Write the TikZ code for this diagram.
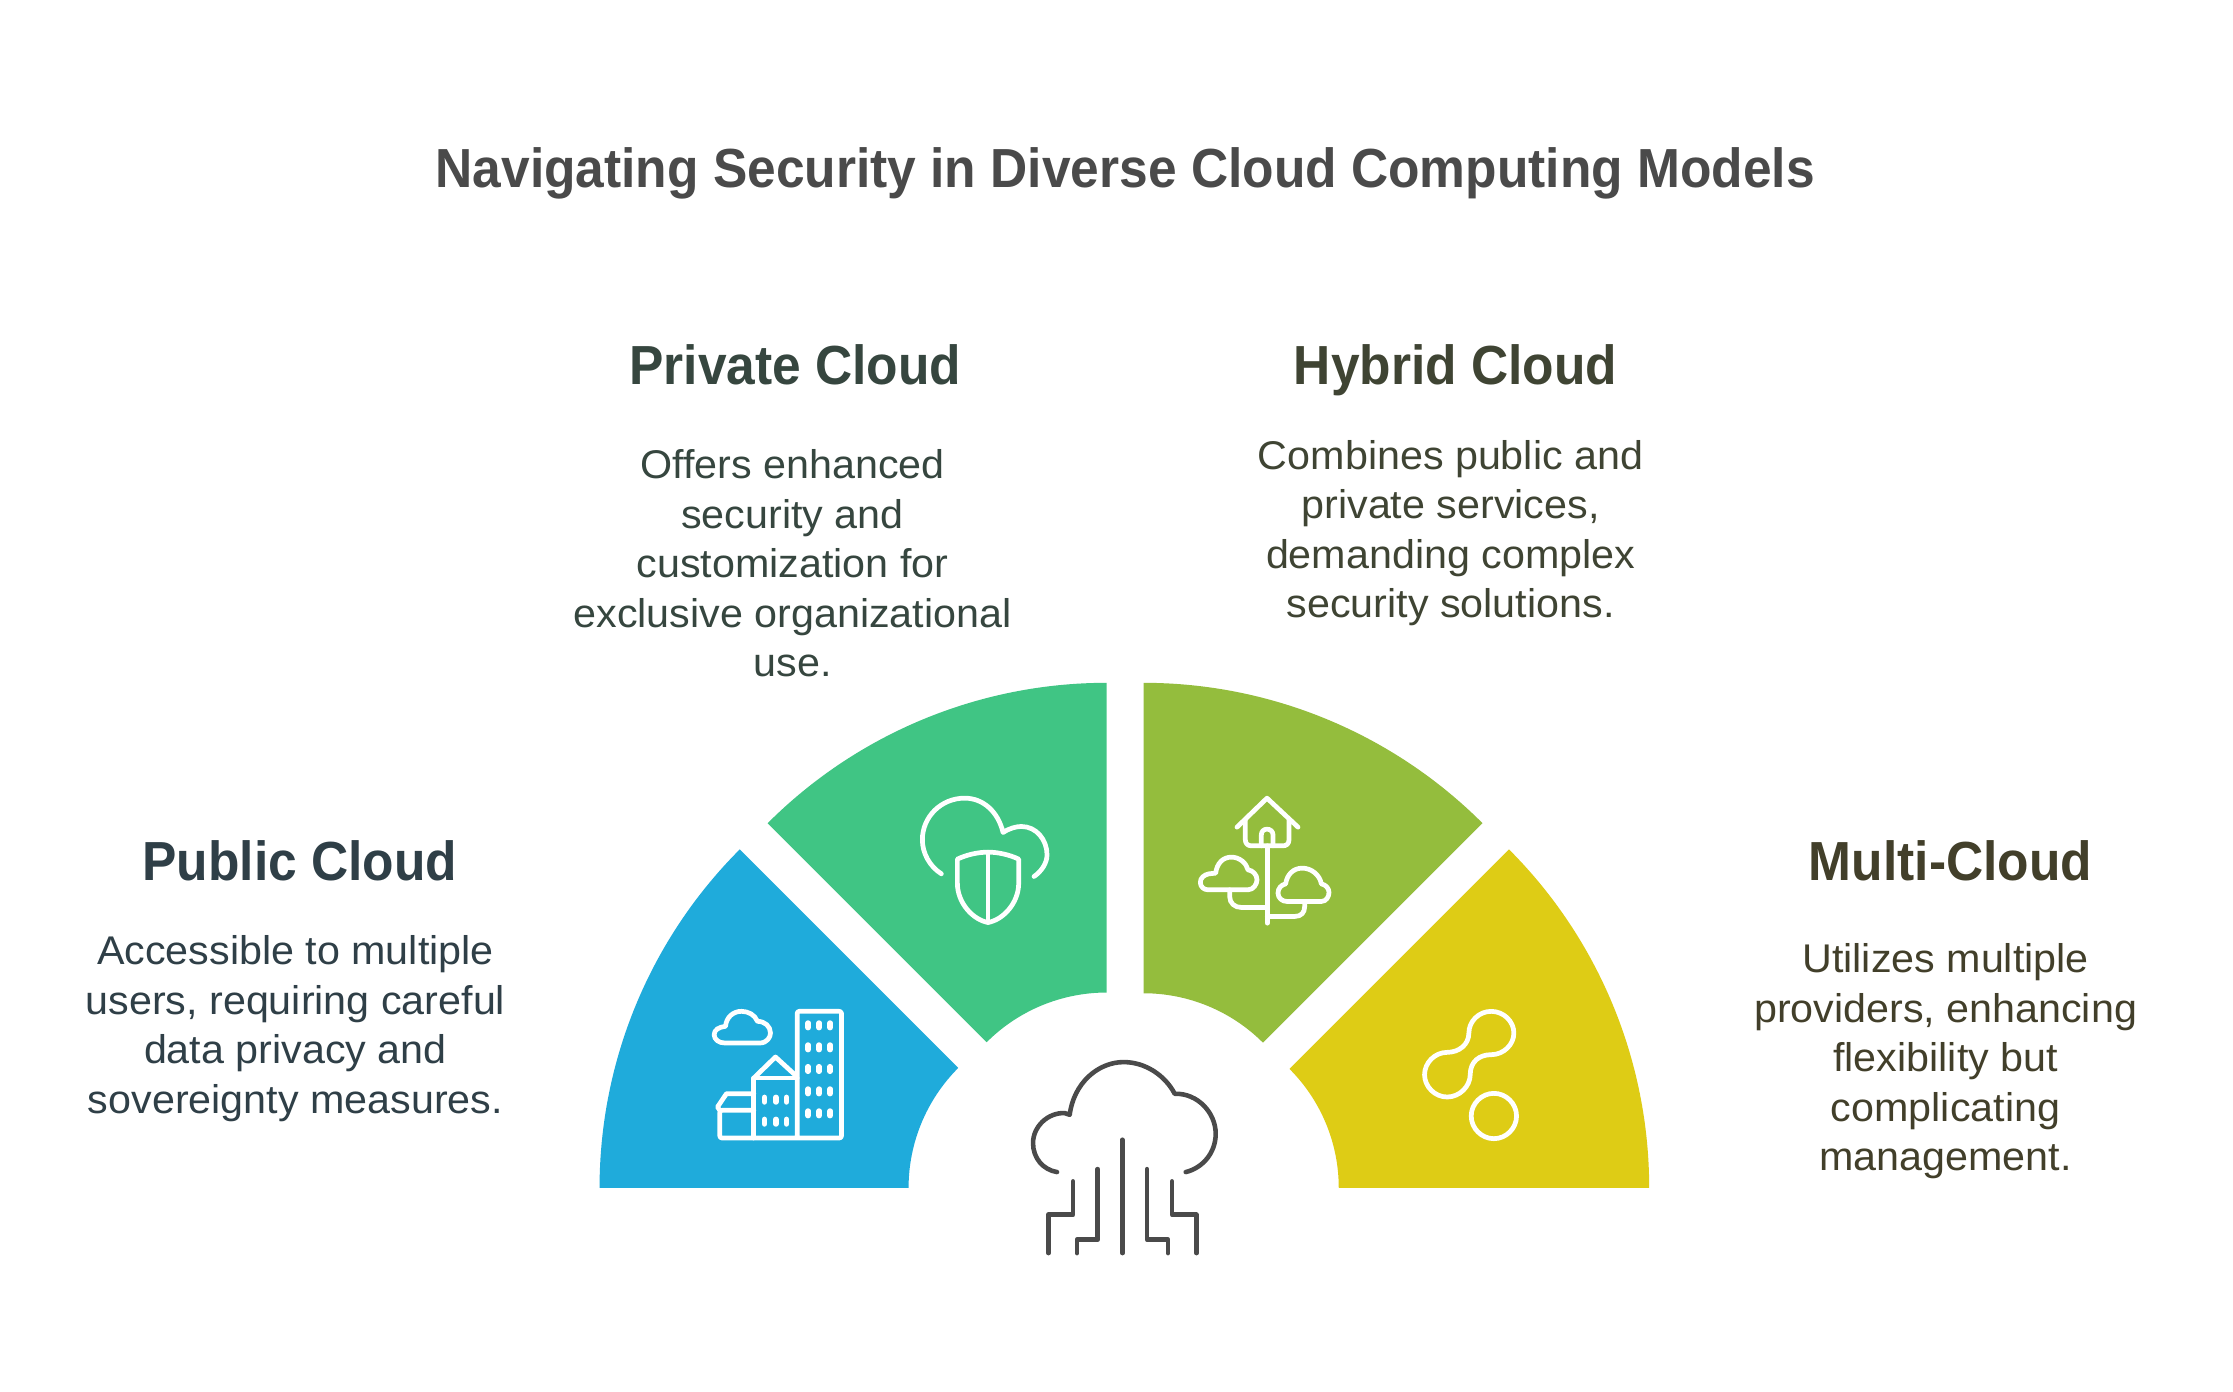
\documentclass[tikz,border=0pt]{standalone}
\usepackage{fontspec}
\setmainfont[FakeStretch=1.03,BoldFeatures={FakeStretch=0.935}]{Liberation Sans}
\usepackage{tikz}

\definecolor{pubblue}{HTML}{1FABDB}
\definecolor{privgreen}{HTML}{40C584}
\definecolor{hybolive}{HTML}{94BD3D}
\definecolor{multyellow}{HTML}{DECC15}
\definecolor{pubtext}{HTML}{2F3F47}
\definecolor{privtext}{HTML}{36463F}
\definecolor{hybtext}{HTML}{3F4433}
\definecolor{multtext}{HTML}{423F2A}
\definecolor{icongrey}{HTML}{4A4A4A}

\tikzset{
  titlenode/.style={text=icongrey,anchor=base,font=\fontsize{38.5}{46}\selectfont\bfseries},
  headnode/.style={anchor=base,font=\fontsize{38.5}{46}\selectfont\bfseries},
  bodynode/.style={align=center,font=\fontsize{28}{34.6}\selectfont},
  iconline/.style={white,line width=3.3pt,line cap=round,line join=round},
  darkline/.style={icongrey,line width=3.2pt,line cap=round,line join=round},
  iconbox/.style={x=0.233pt,y=-0.233pt},
}

\begin{document}
\begin{tikzpicture}[x=1pt,y=-1pt]
\path[fill=white,use as bounding box] (0,0) rectangle (1560.9,973);

\node[titlenode] (title) at (786.5,131) {Navigating Security in Diverse Cloud Computing Models};

% sectors
\fill[pubblue,shift={(753.6,830.3)}] (180:334.5pt) arc[start angle=180,end angle=135,radius=334.5pt] -- (135:118.5pt) arc[start angle=135,end angle=180,radius=118.5pt] -- cycle;
\fill[privgreen,shift={(773.5,812.3)}] (135:335pt) arc[start angle=135,end angle=90,radius=335pt] -- (90:118.5pt) arc[start angle=90,end angle=135,radius=118.5pt] -- cycle;
\fill[hybolive,shift={(799.4,812.3)}] (90:335pt) arc[start angle=90,end angle=45,radius=335pt] -- (45:118pt) arc[start angle=45,end angle=90,radius=118pt] -- cycle;
\fill[multyellow,shift={(818.3,830.3)}] (45:334.5pt) arc[start angle=45,end angle=0,radius=334.5pt] -- (0:117.5pt) arc[start angle=0,end angle=45,radius=117.5pt] -- cycle;

% labels
\node[headnode,text=pubtext] (pubhead) at (209.6,615.2) {Public Cloud};
\node[bodynode,text=pubtext] (pubbody) at (206.5,719.2) {Accessible to multiple\\users, requiring careful\\data privacy and\\sovereignty measures.};
\node[headnode,text=privtext] (privhead) at (556,269) {Private Cloud};
\node[bodynode,text=privtext] (privbody) at (554,393.8) {Offers enhanced\\security and\\customization for\\exclusive organizational\\use.};
\node[headnode,text=hybtext] (hybhead) at (1017.4,269) {Hybrid Cloud};
\node[bodynode,text=hybtext] (hybbody) at (1014,372.8) {Combines public and\\private services,\\demanding complex\\security solutions.};
\node[headnode,text=multtext] (multhead) at (1363.4,615.2) {Multi-Cloud};
\node[bodynode,text=multtext] (multbody) at (1360,741.9) {Utilizes multiple\\providers, enhancing\\flexibility but\\complicating\\management.};

% centre cloud
\begin{scope}[shift={(698.8,726.8)},iconbox]
\draw[darkline] (172,397) .. controls (130,390) and (100,355) .. (100,310) .. controls (100,260) and (145,218) .. (195,220) -- (210,225) .. controls (222,130) and (295,67) .. (372,67) .. controls (435,67) and (495,105) .. (525,162) .. controls (595,160) and (648,220) .. (648,282) .. controls (648,340) and (608,385) .. (558,397);
\draw[darkline] (368,300) -- (368,640);
\draw[darkline] (294,388) -- (294,600) -- (232,600) -- (232,640);
\draw[darkline] (220,425) -- (220,525) -- (146,525) -- (146,640);
\draw[darkline] (442,388) -- (442,600) -- (505,600) -- (505,640);
\draw[darkline] (517,425) -- (517,525) -- (590,525) -- (590,640);
\end{scope}

% city icon
\begin{scope}[shift={(475.2,684.8)},iconbox]
\draw[iconline] (135,190) -- (240,190) .. controls (262,190) and (272,172) .. (272,160) .. controls (272,140) and (255,125) .. (233,125) .. controls (225,105) and (205,95) .. (185,95) .. controls (160,95) and (140,112) .. (137,140) .. controls (118,142) and (103,150) .. (103,165) .. controls (103,180) and (118,190) .. (135,190) -- cycle;
\draw[iconline,rounded corners=1.5pt] (352,475) -- (352,95) -- (485,95) -- (485,475) -- (120,475) -- (120,392) -- (222,392);
\draw[iconline] (222,475) -- (222,295) -- (352,295);
\draw[iconline] (222,295) -- (287,232) -- (345,285);
\draw[iconline] (222,342) -- (140,342) -- (113,382) -- (120,392);
\foreach \wy in {137,203,268,335,401} \foreach \wx in {385,418,451}
  \draw[iconline,line width=3.8pt] (\wx,\wy-7) -- (\wx,\wy+7);
\foreach \wy in {360,426} \foreach \wx in {254,288,320}
  \draw[iconline,line width=3.8pt] (\wx,\wy-7) -- (\wx,\wy+7);
\end{scope}

% shield icon
\begin{scope}[shift={(628.9,545.1)},iconbox]
\draw[iconline] (125,282) .. controls (90,260) and (68,220) .. (68,180) .. controls (68,110) and (125,55) .. (195,55) .. controls (250,55) and (295,95) .. (310,158) .. controls (330,145) and (350,140) .. (365,140) .. controls (410,140) and (442,180) .. (442,225) .. controls (442,250) and (425,275) .. (403,290);
\draw[iconline] (173,238) .. controls (200,225) and (235,217) .. (265,217) .. controls (295,217) and (330,225) .. (357,238) -- (357,310) .. controls (357,370) and (310,420) .. (265,428) .. controls (220,420) and (173,370) .. (173,310) -- cycle;
\draw[iconline] (265,217) -- (265,428);
\end{scope}

% house icon
\begin{scope}[shift={(824.6,545.1)},iconbox]
\draw[iconline] (172,142) -- (262,55) -- (355,142);
\draw[iconline] (197,122) -- (197,180) .. controls (197,192) and (205,198) .. (215,198) -- (310,198) .. controls (320,198) and (328,192) .. (328,180) -- (328,122);
\draw[iconline] (245,198) -- (245,165) .. controls (245,155) and (252,148) .. (262,148) .. controls (272,148) and (280,155) .. (280,165) -- (280,198);
\draw[iconline] (263,198) -- (263,430);
\draw[iconline] (85,330) -- (205,330) .. controls (222,330) and (232,312) .. (232,300) .. controls (232,285) and (220,272) .. (205,270) .. controls (200,250) and (180,232) .. (155,232) .. controls (130,232) and (112,250) .. (108,280) -- (88,282) .. controls (72,285) and (62,295) .. (62,308) .. controls (62,320) and (72,330) .. (85,330) -- cycle;
\draw[iconline] (150,330) -- (150,350) .. controls (150,370) and (165,383) .. (185,383) -- (263,383);
\draw[iconline] (322,365) -- (425,365) .. controls (440,365) and (448,350) .. (448,338) .. controls (448,325) and (438,315) .. (425,312) .. controls (420,285) and (395,265) .. (368,265) .. controls (340,265) and (322,285) .. (318,312) .. controls (305,315) and (295,325) .. (295,340) .. controls (295,355) and (308,365) .. (322,365) -- cycle;
\draw[iconline] (375,365) -- (375,380) .. controls (375,398) and (365,410) .. (345,410) -- (263,410);
\end{scope}

% link icon
\begin{scope}[shift={(978.3,691.8)},iconbox]
\draw[iconline] (275,65) .. controls (312,65) and (343,95) .. (343,130) .. controls (343,165) and (312,195) .. (275,195) .. controls (240,195) and (212,215) .. (212,255) .. controls (212,290) and (180,322) .. (143,322) .. controls (105,322) and (75,290) .. (75,255) .. controls (75,220) and (105,188) .. (143,188) .. controls (178,188) and (208,165) .. (208,130) .. controls (208,95) and (238,65) .. (275,65) -- cycle;
\draw[iconline] (283,311) .. controls (320,311) and (351,342) .. (351,379) .. controls (351,416) and (320,447) .. (283,447) .. controls (246,447) and (215,416) .. (215,379) .. controls (215,342) and (246,311) .. (283,311) -- cycle;
\end{scope}
\end{tikzpicture}
\end{document}
